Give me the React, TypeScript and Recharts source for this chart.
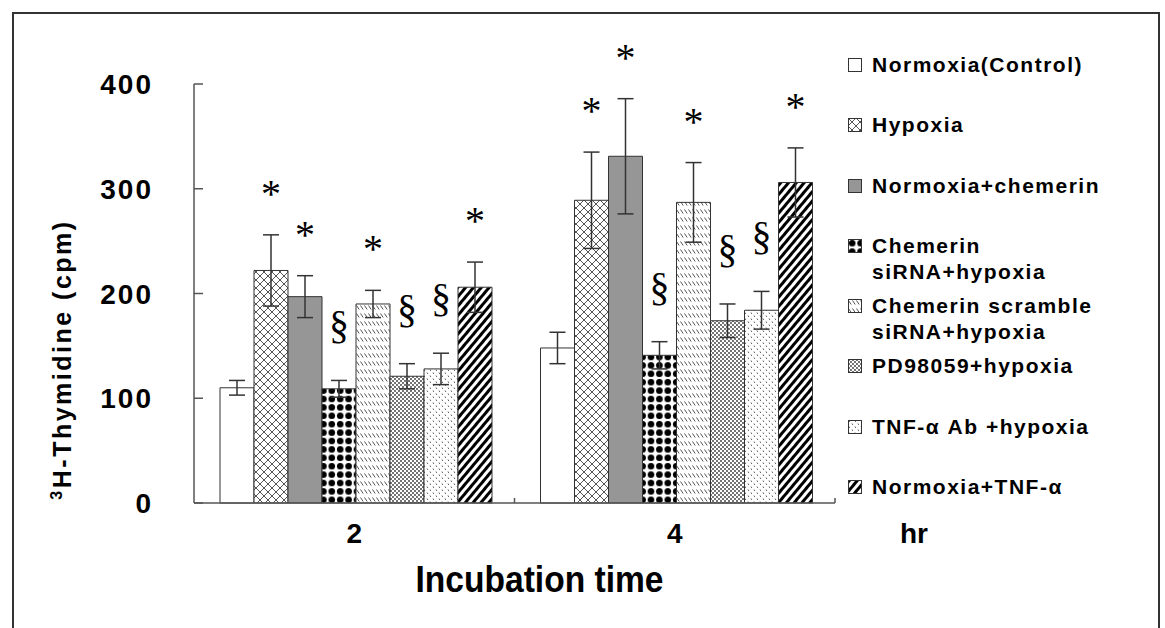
import React from 'react';
import { BarChart, Bar, XAxis, YAxis, ErrorBar, LabelList, Label } from 'recharts';

// incubation time (hr)
const times = ['2', '4'];

// mean 3H-thymidine (cpm) per group, [2 hr, 4 hr]
const normoxiaControl = [110, 148];
const hypoxia = [222, 289];
const normoxiaChemerin = [197, 331];
const chemerinSirna = [109, 141];
const scrambleSirna = [190, 287];
const pd98059 = [121, 174];
const tnfAb = [128, 184];
const normoxiaTnf = [206, 306];

// error bars (+/-)
const normoxiaControlErr = [7, 15];
const hypoxiaErr = [34, 46];
const normoxiaChemerinErr = [20, 55];
const chemerinSirnaErr = [8, 13];
const scrambleSirnaErr = [13, 38];
const pd98059Err = [12, 16];
const tnfAbErr = [15, 18];
const normoxiaTnfErr = [24, 33];

// significance marks
const normoxiaControlMark = ['', ''];
const hypoxiaMark = ['*', '*'];
const normoxiaChemerinMark = ['*', '*'];
const chemerinSirnaMark = ['§', '§'];
const scrambleSirnaMark = ['*', '*'];
const pd98059Mark = ['§', '§'];
const tnfAbMark = ['§', '§'];
const normoxiaTnfMark = ['*', '*'];

const yTicks = [0, 100, 200, 300, 400];

const legendLabels = [
  'Normoxia(Control)',
  'Hypoxia',
  'Normoxia+chemerin',
  'Chemerin\nsiRNA+hypoxia',
  'Chemerin scramble\nsiRNA+hypoxia',
  'PD98059+hypoxia',
  'TNF-α Ab +hypoxia',
  'Normoxia+TNF-α',
];

const seriesMeans = [normoxiaControl, hypoxia, normoxiaChemerin, chemerinSirna, scrambleSirna, pd98059, tnfAb, normoxiaTnf];
const seriesErrs = [normoxiaControlErr, hypoxiaErr, normoxiaChemerinErr, chemerinSirnaErr, scrambleSirnaErr, pd98059Err, tnfAbErr, normoxiaTnfErr];
const seriesMarks = [normoxiaControlMark, hypoxiaMark, normoxiaChemerinMark, chemerinSirnaMark, scrambleSirnaMark, pd98059Mark, tnfAbMark, normoxiaTnfMark];
const fills = ['#ffffff', 'url(#p-hyp)', '#969696', 'url(#p-dots)', 'url(#p-dash)', 'url(#p-pd)', 'url(#p-ab)', 'url(#p-stripe)'];

const data = times.map((t, i) => {
  const row: any = { time: t };
  seriesMeans.forEach((s, k) => {
    row[`s${k}`] = s[i];
    row[`e${k}`] = seriesErrs[k][i];
    row[`m${k}`] = seriesMarks[k][i];
  });
  return row;
});

const SANS = '"Liberation Sans", Arial, sans-serif';
const SERIF = '"Liberation Serif", "Times New Roman", serif';
const AXIS = '#555';
const Y_TICK_MARGIN = 41;

const Patterns = () => (
  <defs>
    <pattern id="p-hyp" width="8" height="8" patternUnits="userSpaceOnUse">
      <rect width="8" height="8" fill="#fff" />
      <path d="M0,0 L8,8 M8,0 L0,8" stroke="#555" strokeWidth="1" />
    </pattern>
    <pattern id="p-dots" width="8.4" height="8.4" patternUnits="userSpaceOnUse">
      <rect width="8.4" height="8.4" fill="#fff" />
      <circle cx="4.2" cy="4.2" r="3.3" fill="#000" />
    </pattern>
    <pattern id="p-dash" width="4" height="8" patternUnits="userSpaceOnUse">
      <rect width="4" height="8" fill="#fff" />
      <path d="M0.5,1.5 L3.2,5.5" stroke="#555" strokeWidth="1" />
    </pattern>
    <pattern id="p-pd" width="4" height="4" patternUnits="userSpaceOnUse">
      <rect width="4" height="4" fill="#fff" />
      <circle cx="1" cy="1" r="0.9" fill="#333" />
      <circle cx="3" cy="3" r="0.9" fill="#333" />
    </pattern>
    <pattern id="p-ab" width="6" height="6" patternUnits="userSpaceOnUse">
      <rect width="6" height="6" fill="#fff" />
      <path d="M1,0.5 L1.8,2 M4,3.5 L4.8,5" stroke="#666" strokeWidth="1" />
    </pattern>
    <pattern id="p-stripe" width="6" height="6" patternUnits="userSpaceOnUse" patternTransform="rotate(40)">
      <rect width="6" height="6" fill="#fff" />
      <rect width="3" height="6" fill="#000" />
    </pattern>
  </defs>
);

const YTick = (props: any) => {
  const { x, y, payload } = props;
  const axisX = x + Y_TICK_MARGIN;
  return (
    <g>
      <line x1={axisX} x2={axisX + 9} y1={y} y2={y} stroke={AXIS} strokeWidth={1.5} />
      <text x={x} y={y} dy={10} textAnchor="end" fontFamily={SANS} fontWeight="bold" fontSize={28} letterSpacing={2} fill="#000">
        {payload.value}
      </text>
    </g>
  );
};

const XTick = (props: any) => {
  const { x, y, payload, width, visibleTicksCount } = props;
  const axisY = y - 20;
  const half = width && visibleTicksCount ? width / visibleTicksCount / 2 : 0;
  return (
    <g>
      {half > 0 && (
        <line x1={x + half} x2={x + half} y1={axisY} y2={axisY - 5} stroke={AXIS} strokeWidth={1.5} />
      )}
      <text x={x} y={y} dy={20} textAnchor="middle" fontFamily={SANS} fontWeight="bold" fontSize={28} fill="#000">
        {payload.value}
      </text>
    </g>
  );
};

const markLabel = (k: number) => (props: any) => {
  const { x, y, width, height, value, index } = props;
  if (!value) return null;
  const perUnit = height / seriesMeans[k][index];
  const errTop = y - seriesErrs[k][index] * perUnit;
  const cx = x + width / 2;
  if (value === '*') {
    return (
      <text x={cx} y={errTop - 47 + 19} textAnchor="middle" fontFamily={SERIF} fontSize={40} fill="#000">
        *
      </text>
    );
  }
  return (
    <text x={cx} y={errTop - 53 + 11} textAnchor="middle" fontFamily={SERIF} fontSize={40} fill="#000">
      §
    </text>
  );
};

const Legend = () => (
  <div style={{ position: 'absolute', left: 848, top: 52 }}>
    {legendLabels.map((lab, k) => (
      <div key={lab} style={{ position: 'relative', height: 60.3 }}>
        <svg width={14} height={14} style={{ position: 'absolute', left: 0, top: 6 }}>
          <rect x={0.5} y={0.5} width={13} height={13} fill={fills[k]} stroke="#333" strokeWidth={1} />
        </svg>
        <div
          style={{
            position: 'absolute',
            left: 24,
            top: 0,
            fontFamily: SANS,
            fontWeight: 'bold',
            fontSize: 21,
            letterSpacing: 1.5,
            lineHeight: '26px',
            whiteSpace: 'pre',
            color: '#000',
          }}
        >
          {lab}
        </div>
      </div>
    ))}
  </div>
);

export default function App() {
  return (
    <div style={{ position: 'absolute', left: 0, top: 0, width: 1165, height: 628, background: '#fff', overflow: 'hidden' }}>
      <div style={{ position: 'absolute', left: 12, top: 12, width: 1148, height: 640, border: '2px solid #333', boxSizing: 'border-box' }} />
      <div style={{ position: 'absolute', left: 0, top: 0 }}>
        <BarChart width={1165} height={628} data={data} margin={{ top: 84, right: 330, bottom: 61, left: 0 }} barCategoryGap={26} barGap={0}>
          <Patterns />
          <XAxis
            dataKey="time"
            height={64}
            axisLine={{ stroke: AXIS, strokeWidth: 1.5 }}
            tickLine={false}
            tickSize={0}
            tickMargin={20}
            tick={<XTick />}
          >
            <Label
              content={(p: any) => {
                const vb = p.viewBox;
                return (
                  <text x={vb.x + vb.width / 2 + 25} y={vb.y + 89} textAnchor="middle" fontFamily={SANS} fontWeight="bold" fontSize={37} textLength={248} lengthAdjust="spacingAndGlyphs" fill="#000">
                    Incubation time
                  </text>
                );
              }}
            />
            <Label
              content={(p: any) => {
                const vb = p.viewBox;
                return (
                  <text x={vb.x + vb.width + 65} y={vb.y + 40} fontFamily={SANS} fontWeight="bold" fontSize={28} fill="#000">
                    hr
                  </text>
                );
              }}
            />
          </XAxis>
          <YAxis
            width={194}
            domain={[0, 400]}
            ticks={yTicks}
            interval={0}
            axisLine={{ stroke: AXIS, strokeWidth: 1.5 }}
            tickLine={false}
            tickSize={0}
            tickMargin={Y_TICK_MARGIN}
            tick={<YTick />}
          >
            <Label
              content={(p: any) => {
                const vb = p.viewBox;
                const cx = vb.x + 62;
                const cy = vb.y + vb.height / 2 + 66;
                return (
                  <text
                    x={cx}
                    y={cy + 9}
                    transform={`rotate(-90, ${cx}, ${cy})`}
                    textAnchor="middle"
                    fontFamily={SANS}
                    fontWeight="bold"
                    fontSize={25}
                    letterSpacing={2.5}
                    fill="#000"
                  >
                    <tspan fontSize={16} dy={-9}>3</tspan>
                    <tspan dy={9}>H-Thymidine (cpm)</tspan>
                  </text>
                );
              }}
            />
          </YAxis>
          {seriesMeans.map((_, k) => (
            <Bar key={k} dataKey={`s${k}`} fill={fills[k]} stroke="#333" strokeWidth={1} isAnimationActive={false}>
              <ErrorBar dataKey={`e${k}`} width={8} stroke="#333" strokeWidth={1.5} />
              <LabelList dataKey={`m${k}`} content={markLabel(k)} />
            </Bar>
          ))}
        </BarChart>
      </div>
      <Legend />
    </div>
  );
}
